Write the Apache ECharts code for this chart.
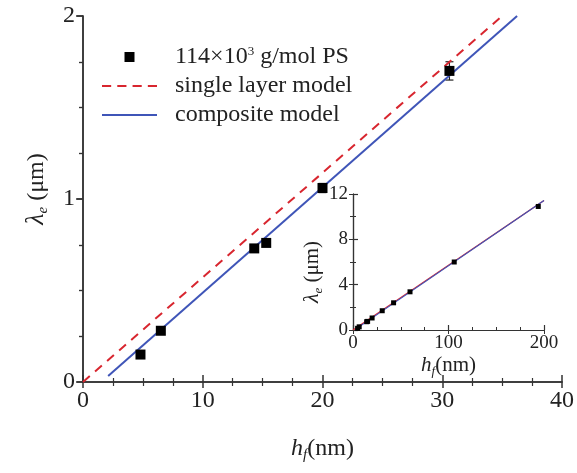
<!DOCTYPE html>
<html>
<head>
<meta charset="utf-8">
<script src="https://cdn.jsdelivr.net/npm/echarts@6/dist/echarts.min.js"></script>
<style>
  html, body { margin: 0; padding: 0; background: #fff; }
  #chart { width: 577px; height: 473px; }
</style>
</head>
<body>
<div id="chart"></div>
<script>
// Film thickness h_f (nm) and measured wavelength λ_e (μm), 114k PS
const hf = [4.8, 6.5, 14.3, 15.3, 20.0, 30.6];
const lambdaE = [0.15, 0.28, 0.73, 0.76, 1.06, 1.70];
const lambdaErr = [0.015, 0.015, 0.015, 0.015, 0.025, 0.05];

// Thicker films, shown only in the inset
const hfThick = [42.5, 59.7, 106, 194];
const lambdaThick = [2.4, 3.37, 6.0, 10.9];

// Model curves (end points of straight lines)
const singleLayerX = [0, 35.0];
const singleLayerY = [0, 2.0];
const compositeX = [2.1, 36.25];
const compositeY = [0.033, 2.0];
const singleLayerInsetX = [0, 200];
const singleLayerInsetY = [0, 11.43];
const compositeInsetX = [2.1, 200];
const compositeInsetY = [0.033, 11.43];

// Tick settings
const mainXTicks = { min: 0, max: 40, interval: 10 };
const mainYTicks = { min: 0, max: 2, interval: 1 };
const insetXTicks = { min: 0, max: 200, interval: 100 };
const insetYTicks = { min: 0, max: 12, interval: 4 };

const pairs = (xs, ys) => xs.map((x, i) => [x, ys[i]]);
const allHf = hf.concat(hfThick);
const allLambda = lambdaE.concat(lambdaThick);

const FONT = '"Liberation Serif", "Times New Roman", serif';
const AX = '#333';
const RED = '#d8262f';
const BLUE = '#3f55b8';

// Legend keys: a filled square, a dashed stroke and a solid stroke
const ICON_SQUARE = 'path://M0,0H10V10H0Z';
const ICON_DASHED = 'path://M0,0H9V2H0Z M15,0H24V2H15Z M30,0H39V2H30Z M45,0H54V2H45Z';
const ICON_SOLID = 'path://M0,0H55V2H0Z';

const chart = echarts.init(document.getElementById('chart'), null, { renderer: 'canvas' });

const frameAxis = (extra) => Object.assign({
  axisLine: { show: true, lineStyle: { color: AX, width: 1.5 } },
  axisLabel: { show: false },
  splitLine: { show: false },
  axisTick: { show: false },
}, extra);

function errorBars(params, api) {
  const x = api.value(0), y = api.value(1), e = api.value(2);
  const top = api.coord([x, y + e]);
  const bot = api.coord([x, y - e]);
  const cap = 4;
  const st = { stroke: '#222', lineWidth: 1.2 };
  return {
    type: 'group',
    children: [
      { type: 'line', shape: { x1: top[0], y1: top[1], x2: bot[0], y2: bot[1] }, style: st },
      { type: 'line', shape: { x1: top[0] - cap, y1: top[1], x2: top[0] + cap, y2: top[1] }, style: st },
      { type: 'line', shape: { x1: bot[0] - cap, y1: bot[1], x2: bot[0] + cap, y2: bot[1] }, style: st },
    ]
  };
}

const option = {
  backgroundColor: '#fff',
  animation: false,
  textStyle: { fontFamily: FONT },
  grid: [
    { left: 83, right: 14, top: 16, bottom: 91 },
    { left: 353, width: 191, top: 194, height: 136 }
  ],
  legend: {
    orient: 'vertical',
    left: 97,
    top: 40,
    itemWidth: 55,
    itemHeight: 10,
    itemGap: 5,
    data: [
      { name: 'ps', icon: ICON_SQUARE, itemStyle: { color: '#000' } },
      { name: 'single', icon: ICON_DASHED, itemStyle: { color: RED } },
      { name: 'composite', icon: ICON_SOLID, itemStyle: { color: BLUE } }
    ],
    formatter: function (name) {
      if (name === 'ps') return '{t|114×10}{sup|3}{t| g/mol PS}';
      if (name === 'single') return '{t|single layer model}';
      return '{t|composite model}';
    },
    textStyle: {
      fontFamily: FONT,
      fontSize: 24,
      color: '#222',
      lineHeight: 24,
      rich: {
        t: { fontFamily: FONT, fontSize: 24, color: '#222', lineHeight: 24 },
        sup: { fontFamily: FONT, fontSize: 13, color: '#222', verticalAlign: 'top', lineHeight: 24 }
      },
      padding: [0, 0, 0, 13]
    }
  },
  xAxis: [
    {
      gridIndex: 0, type: 'value', position: 'bottom',
      min: mainXTicks.min, max: mainXTicks.max, interval: mainXTicks.interval,
      axisLine: { lineStyle: { color: AX, width: 1.5 } },
      axisTick: { inside: true, length: 7, lineStyle: { color: AX, width: 1.5 } },
      minorTick: { show: true, splitNumber: 4, length: 4, lineStyle: { color: AX, width: 1.2 } },
      axisLabel: { fontFamily: FONT, fontSize: 24, color: '#222', margin: 7 },
      splitLine: { show: false },
      name: '{i|h}{s|f}{t|(nm)}',
      nameLocation: 'middle',
      nameGap: 52,
      nameTextStyle: {
        rich: {
          i: { fontFamily: FONT, fontStyle: 'italic', fontSize: 24, color: '#222' },
          s: { fontFamily: FONT, fontStyle: 'italic', fontSize: 15, color: '#222', verticalAlign: 'bottom', padding: [14, 0, 0, 0] },
          t: { fontFamily: FONT, fontSize: 24, color: '#222' }
        }
      }
    },
    frameAxis({
      gridIndex: 0, type: 'value', position: 'top',
      min: mainXTicks.min, max: mainXTicks.max, interval: mainXTicks.interval,
      axisTick: { show: true, inside: true, length: 6, lineStyle: { color: AX, width: 1.5 } },
      minorTick: { show: true, splitNumber: 4, length: 4, lineStyle: { color: AX, width: 1.2 } }
    }),
    {
      gridIndex: 1, type: 'value', position: 'bottom',
      min: insetXTicks.min, max: insetXTicks.max, interval: insetXTicks.interval,
      axisLine: { lineStyle: { color: AX, width: 1.2 } },
      axisTick: { inside: true, length: 5, lineStyle: { color: AX, width: 1.2 } },
      minorTick: { show: true, splitNumber: 4, length: 3, lineStyle: { color: AX, width: 1 } },
      axisLabel: { fontFamily: FONT, fontSize: 19, color: '#222', margin: 4 },
      splitLine: { show: false },
      name: '{i|h}{s|f}{t|(nm)}',
      nameLocation: 'middle',
      nameGap: 23,
      nameTextStyle: {
        rich: {
          i: { fontFamily: FONT, fontStyle: 'italic', fontSize: 21, color: '#222' },
          s: { fontFamily: FONT, fontStyle: 'italic', fontSize: 13, color: '#222', verticalAlign: 'bottom', padding: [12, 0, 0, 0] },
          t: { fontFamily: FONT, fontSize: 21, color: '#222' }
        }
      }
    },
    frameAxis({
      gridIndex: 1, type: 'value', position: 'top',
      min: insetXTicks.min, max: insetXTicks.max, interval: insetXTicks.interval,
      axisLine: { show: true, lineStyle: { color: AX, width: 1.2 } },
      axisTick: { show: true, inside: true, length: 4, lineStyle: { color: AX, width: 1 } }
    })
  ],
  yAxis: [
    {
      gridIndex: 0, type: 'value', position: 'left',
      min: mainYTicks.min, max: mainYTicks.max, interval: mainYTicks.interval,
      axisLine: { show: true, lineStyle: { color: AX, width: 1.5 } },
      axisTick: { show: true, inside: false, length: 7, lineStyle: { color: AX, width: 1.5 } },
      minorTick: { show: true, splitNumber: 4, length: 4, lineStyle: { color: AX, width: 1.2 } },
      axisLabel: { fontFamily: FONT, fontSize: 24, color: '#222', margin: 8 },
      splitLine: { show: false },
      name: '{i|λ}{s|e}{t| (μm)}',
      nameLocation: 'middle',
      nameRotate: 90,
      nameGap: 32,
      nameTextStyle: {
        padding: [0, 0, 0, 20],
        rich: {
          i: { fontFamily: FONT, fontStyle: 'italic', fontSize: 26, color: '#222' },
          s: { fontFamily: FONT, fontStyle: 'italic', fontSize: 15, color: '#222', verticalAlign: 'bottom', padding: [14, 0, 0, 0] },
          t: { fontFamily: FONT, fontSize: 24, color: '#222' }
        }
      }
    },
    frameAxis({
      gridIndex: 0, type: 'value', position: 'right',
      min: mainYTicks.min, max: mainYTicks.max, interval: mainYTicks.interval,
      axisTick: { show: true, inside: true, length: 6, lineStyle: { color: AX, width: 1.5 } },
      minorTick: { show: true, splitNumber: 4, length: 4, lineStyle: { color: AX, width: 1.2 } }
    }),
    {
      gridIndex: 1, type: 'value', position: 'left',
      min: insetYTicks.min, max: insetYTicks.max, interval: insetYTicks.interval,
      axisLine: { show: true, lineStyle: { color: AX, width: 1.2 } },
      axisTick: { show: true, inside: true, length: 5, lineStyle: { color: AX, width: 1.2 } },
      minorTick: { show: true, splitNumber: 2, length: 3, lineStyle: { color: AX, width: 1 } },
      axisLabel: { fontFamily: FONT, fontSize: 19, color: '#222', margin: 5 },
      splitLine: { show: false },
      name: '{i|λ}{s|e}{t| (μm)}',
      nameLocation: 'middle',
      nameRotate: 90,
      nameGap: 13,
      nameTextStyle: {
        padding: [0, 20, 0, 0],
        rich: {
          i: { fontFamily: FONT, fontStyle: 'italic', fontSize: 22, color: '#222' },
          s: { fontFamily: FONT, fontStyle: 'italic', fontSize: 13, color: '#222', verticalAlign: 'bottom', padding: [12, 0, 0, 0] },
          t: { fontFamily: FONT, fontSize: 21, color: '#222' }
        }
      }
    },
    frameAxis({
      gridIndex: 1, type: 'value', position: 'right',
      min: insetYTicks.min, max: insetYTicks.max, interval: insetYTicks.interval,
      axisLine: { show: true, lineStyle: { color: AX, width: 1.2 } },
      axisTick: { show: true, inside: true, length: 4, lineStyle: { color: AX, width: 1 } },
      minorTick: { show: true, splitNumber: 2, length: 3, lineStyle: { color: AX, width: 1 } }
    })
  ],
  series: [
    {
      name: 'single', type: 'line', xAxisIndex: 0, yAxisIndex: 0,
      data: pairs(singleLayerX, singleLayerY),
      symbol: 'none', clip: true,
      lineStyle: { color: RED, width: 2, type: [9, 7] },
      itemStyle: { color: RED }
    },
    {
      name: 'composite', type: 'line', xAxisIndex: 0, yAxisIndex: 0,
      data: pairs(compositeX, compositeY),
      symbol: 'none', clip: true,
      lineStyle: { color: BLUE, width: 2 },
      itemStyle: { color: BLUE }
    },
    {
      name: 'ps-err', type: 'custom', xAxisIndex: 0, yAxisIndex: 0,
      data: hf.map((x, i) => [x, lambdaE[i], lambdaErr[i]]),
      renderItem: errorBars, z: 3
    },
    {
      name: 'ps', type: 'scatter', xAxisIndex: 0, yAxisIndex: 0,
      data: pairs(hf, lambdaE),
      symbol: 'rect', symbolSize: 10,
      itemStyle: { color: '#000', opacity: 1 }, z: 4
    },
    // inset
    {
      name: 'single-inset', type: 'line', xAxisIndex: 2, yAxisIndex: 2,
      data: pairs(singleLayerInsetX, singleLayerInsetY),
      symbol: 'none', lineStyle: { color: RED, width: 1.2 }
    },
    {
      name: 'composite-inset', type: 'line', xAxisIndex: 2, yAxisIndex: 2,
      data: pairs(compositeInsetX, compositeInsetY),
      symbol: 'none', lineStyle: { color: BLUE, width: 1.2 }
    },
    {
      name: 'ps-inset', type: 'scatter', xAxisIndex: 2, yAxisIndex: 2,
      data: pairs(allHf, allLambda),
      symbol: 'rect', symbolSize: 5,
      itemStyle: { color: '#000', opacity: 1 }, z: 4
    }
  ]
};

chart.setOption(option);
</script>
</body>
</html>
